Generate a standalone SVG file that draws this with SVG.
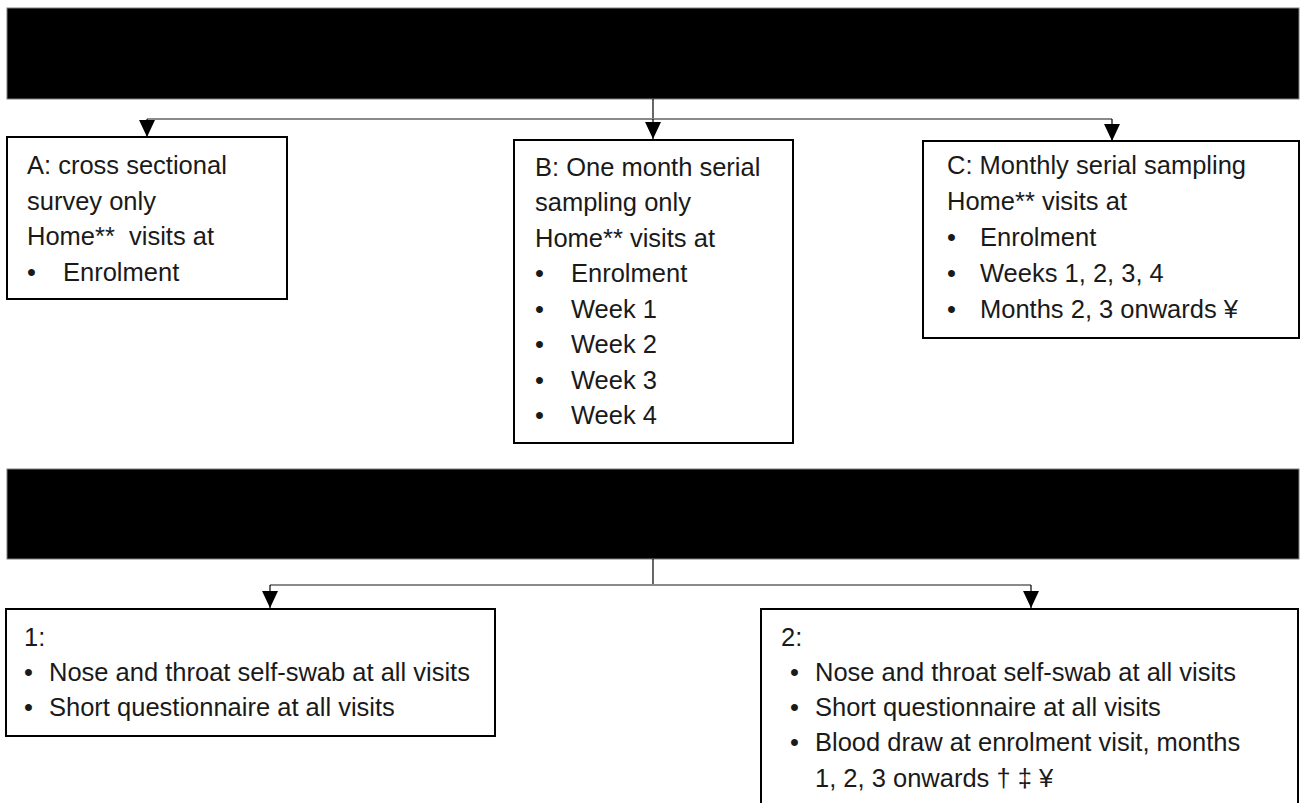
<svg xmlns="http://www.w3.org/2000/svg" width="1301" height="803" viewBox="0 0 1301 803">
<style>
.bar{fill:#000;stroke:#7f7f7f;stroke-width:1}
.box{fill:#fff;stroke:#000;stroke-width:2}
.t{font-family:"Liberation Sans",Arial,sans-serif;font-size:25.5px;fill:#1a1a1a}
.h{fill:none;stroke:#8a8a8a;stroke-width:2}
.v{fill:none;stroke:#000;stroke-width:1.2}
</style>
<defs>
<marker id="arr" markerUnits="userSpaceOnUse" markerWidth="17" markerHeight="16" refX="16" refY="7.5" orient="auto" viewBox="0 0 16 15">
<path d="M0,0 L16,7.5 L0,15 z" fill="#000"/>
</marker>
</defs>
<rect x="0" y="0" width="1301" height="803" fill="#fff"/>
<g id="header1"><rect class="bar" x="7" y="8" width="1292" height="91"/></g>
<g id="header2"><rect class="bar" x="7" y="469" width="1292" height="90"/></g>
<g id="connectors">
<path class="v" d="M653,99 V119"/>
<path class="h" d="M147,119 H1112"/>
<path class="v" d="M147,119 V137" marker-end="url(#arr)"/>
<path class="v" d="M653,119 V139" marker-end="url(#arr)"/>
<path class="v" d="M1112,119 V141" marker-end="url(#arr)"/>
<path class="v" d="M653,559 V585"/>
<path class="h" d="M270,585 H1031"/>
<path class="v" d="M270,585 V608" marker-end="url(#arr)"/>
<path class="v" d="M1031,585 V608" marker-end="url(#arr)"/>
</g>
<g id="nodeA">
<rect class="box" x="7" y="137" width="280" height="162"/>
<text class="t" x="27" y="174">A: cross sectional</text>
<text class="t" x="27" y="210">survey only</text>
<text class="t" x="27" y="245" xml:space="preserve">Home**  visits at</text>
<text class="t" x="27" y="281">•</text><text class="t" x="63" y="281">Enrolment</text>
</g>
<g id="nodeB">
<rect class="box" x="514" y="140" width="279" height="303"/>
<text class="t" x="535" y="175.5">B: One month serial</text>
<text class="t" x="535" y="211">sampling only</text>
<text class="t" x="535" y="246.5">Home** visits at</text>
<text class="t" x="535" y="282">•</text><text class="t" x="571" y="282">Enrolment</text>
<text class="t" x="535" y="317.5">•</text><text class="t" x="571" y="317.5">Week 1</text>
<text class="t" x="535" y="353">•</text><text class="t" x="571" y="353">Week 2</text>
<text class="t" x="535" y="388.5">•</text><text class="t" x="571" y="388.5">Week 3</text>
<text class="t" x="535" y="424">•</text><text class="t" x="571" y="424">Week 4</text>
</g>
<g id="nodeC">
<rect class="box" x="923" y="141" width="376" height="197"/>
<text class="t" x="947" y="174">C: Monthly serial sampling</text>
<text class="t" x="947" y="210">Home** visits at</text>
<text class="t" x="947" y="246">•</text><text class="t" x="980" y="246">Enrolment</text>
<text class="t" x="947" y="282">•</text><text class="t" x="980" y="282">Weeks 1, 2, 3, 4</text>
<text class="t" x="947" y="318">•</text><text class="t" x="980" y="318">Months 2, 3 onwards ¥</text>
</g>
<g id="node1">
<rect class="box" x="6" y="609" width="489" height="127"/>
<text class="t" x="24" y="645.5">1:</text>
<text class="t" x="24" y="681">•</text><text class="t" x="49" y="681">Nose and throat self-swab at all visits</text>
<text class="t" x="24" y="716">•</text><text class="t" x="49" y="716">Short questionnaire at all visits</text>
</g>
<g id="node2">
<rect class="box" x="761" y="609" width="537" height="230"/>
<text class="t" x="781" y="645.5">2:</text>
<text class="t" x="790" y="681">•</text><text class="t" x="815" y="681">Nose and throat self-swab at all visits</text>
<text class="t" x="790" y="716">•</text><text class="t" x="815" y="716">Short questionnaire at all visits</text>
<text class="t" x="790" y="751">•</text><text class="t" x="815" y="751">Blood draw at enrolment visit, months</text>
<text class="t" x="815" y="786.5">1, 2, 3 onwards † ‡ ¥</text>
</g>
</svg>
